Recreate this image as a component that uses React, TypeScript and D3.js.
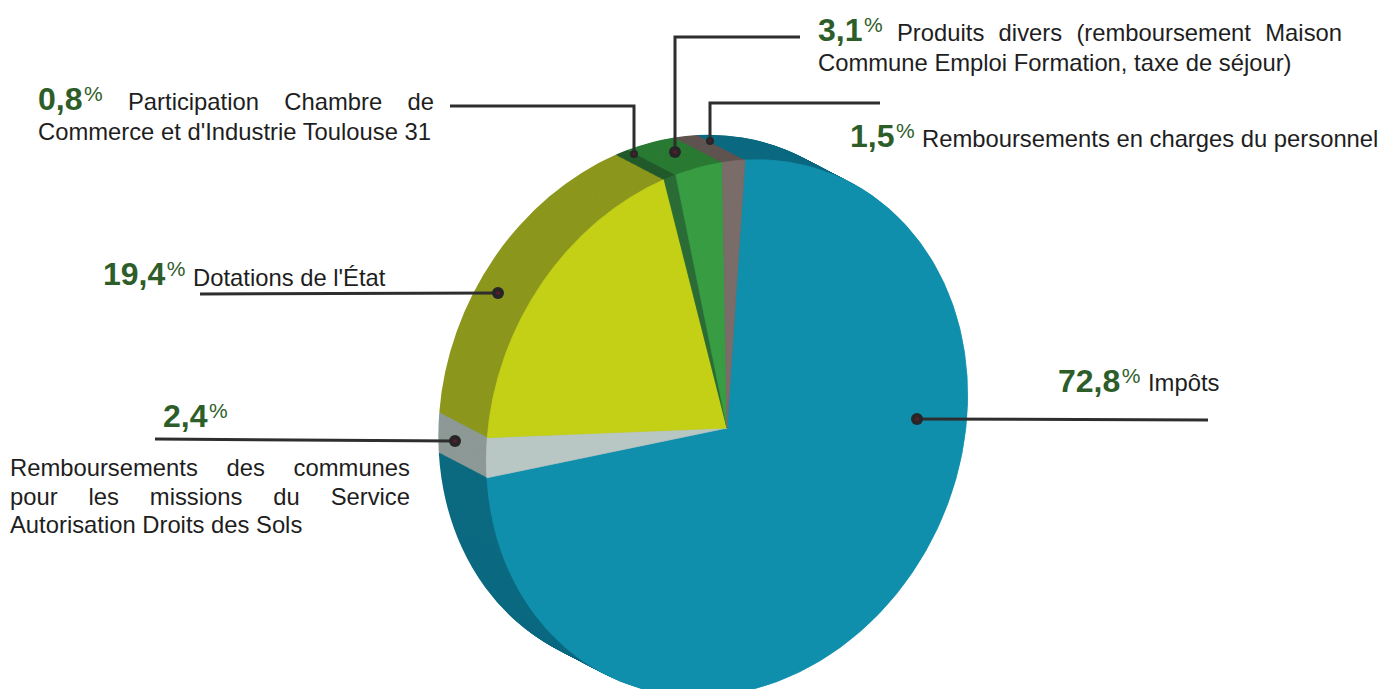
import React, { useMemo } from 'react';
import * as d3 from 'd3';

// ---------- DATA ----------
const categories = [
  'Impôts',
  'Remboursements des communes pour les missions du Service Autorisation Droits des Sols',
  "Dotations de l'État",
  "Participation Chambre de Commerce et d'Industrie Toulouse 31",
  'Produits divers (remboursement Maison Commune Emploi Formation, taxe de séjour)',
  'Remboursements en charges du personnel',
];
const values = [72.8, 2.4, 19.4, 0.8, 3.1, 1.5];
const labelLines = [
  ['Impôts'],
  ['Remboursements des communes', 'pour les missions du Service', 'Autorisation Droits des Sols'],
  ["Dotations de l'État"],
  ['Participation Chambre de', "Commerce et d'Industrie Toulouse 31"],
  ['Produits divers (remboursement Maison', 'Commune Emploi Formation, taxe de séjour)'],
  ['Remboursements en charges du personnel'],
];

// ---------- STYLE / LAYOUT ----------
const frontColors = ['#0f8fac', '#b8c6c4', '#c3d016', '#2b6b36', '#379c42', '#7a6c68'];
const sideColors = ['#0c6a80', '#8d9996', '#8c971d', '#225a2c', '#2a7a33', '#5f5450'];

const W = 1387;
const H = 689;
const CENTER: [number, number] = [727, 428];
const V12: [number, number] = [18, -268]; // direction of 12 o'clock on the tilted face
const V3: [number, number] = [240, -13]; // direction of 3 o'clock
const DEPTH: [number, number] = [-48, -25];
const LAYERS = 56;

const labelLayout = [
  { numX: 1058, numY: 392, lines: [{ x: 1148, y: 391 }], leader: [[1208, 420], [917, 419]], dot: 6 },
  {
    numX: 163, numY: 427,
    lines: [{ x: 10, y: 476, x1: 410 }, { x: 10, y: 505, x1: 410 }, { x: 10, y: 533 }],
    leader: [[155, 439], [455, 441]], dot: 6,
  },
  { numX: 103, numY: 285, lines: [{ x: 193, y: 286 }], leader: [[200, 294], [498, 293]], dot: 6 },
  {
    numX: 38, numY: 110,
    lines: [{ x: 128, y: 110, x1: 434 }, { x: 38, y: 140 }],
    leader: [[450, 106], [634, 106], [634, 154]], dot: 4,
  },
  {
    numX: 818, numY: 41,
    lines: [{ x: 897, y: 41, x1: 1342 }, { x: 818, y: 71 }],
    leader: [[800, 37], [675, 37], [675, 152]], dot: 6,
  },
  { numX: 850, numY: 147, lines: [{ x: 922, y: 147 }], leader: [[880, 103], [710, 103], [710, 141]], dot: 4 },
];

const FONT_FAMILY = "'Liberation Sans', Arial, sans-serif";
const TEXT_SIZE = 23.8;
const NUM_SIZE = 32;
const PCT_SIZE = 21;
const NUM_COLOR = '#2d5e2a';
const TEXT_COLOR = '#1e1e1e';
const LINE_COLOR = '#2e2e2e';

let _ctx: CanvasRenderingContext2D | null = null;
function measure(text: string, font: string): number {
  if (!_ctx) _ctx = document.createElement('canvas').getContext('2d');
  if (!_ctx) return text.length * 10;
  _ctx.font = font;
  return _ctx.measureText(text).width;
}

const fmt = (v: number) => d3.format('.1f')(v).replace('.', ',');

export default function App() {
  const R = 100;
  const arcs = useMemo(() => d3.pie<number>().sort(null).startAngle(0).endAngle(2 * Math.PI)(values), []);
  const arcGen = useMemo(() => d3.arc<d3.PieArcDatum<number>>().innerRadius(0).outerRadius(R), []);

  const matrix = (dx: number, dy: number) =>
    `matrix(${V3[0] / R} ${V3[1] / R} ${-V12[0] / R} ${-V12[1] / R} ${CENTER[0] + dx} ${CENTER[1] + dy})`;

  const layers: number[] = [];
  for (let k = LAYERS; k >= 1; k--) layers.push(k / LAYERS);

  const textFont = `${TEXT_SIZE}px ${FONT_FAMILY}`;
  const numFont = `bold ${NUM_SIZE}px ${FONT_FAMILY}`;

  const lineGen = d3.line();

  return (
    <svg width={W} height={H} style={{ position: 'absolute', left: 0, top: 0, background: '#fff' }}
      fontFamily={FONT_FAMILY}>
      <rect width={W} height={H} fill="#fff" />
      {/* extruded side */}
      {layers.map((t) => (
        <g key={t} transform={matrix(DEPTH[0] * t, DEPTH[1] * t)}>
          {arcs.map((a, i) => (
            <path key={i} d={arcGen(a) || ''} fill={sideColors[i]} />
          ))}
        </g>
      ))}
      {/* front face */}
      <g transform={matrix(0, 0)}>
        {arcs.map((a, i) => (
          <path key={i} d={arcGen(a) || ''} fill={frontColors[i]} stroke={frontColors[i]} strokeWidth={0.3}>
            <title>{categories[i]}</title>
          </path>
        ))}
      </g>
      {/* leaders */}
      {labelLayout.map((L, i) => {
        const pts = L.leader as [number, number][];
        const end = pts[pts.length - 1];
        return (
          <g key={i}>
            <path d={lineGen(pts) || ''} fill="none" stroke={LINE_COLOR} strokeWidth={3} />
            <circle cx={end[0]} cy={end[1]} r={L.dot} fill="#262626" />
            <circle cx={end[0]} cy={end[1]} r={L.dot * 0.35} fill="#5a1c2c" />
          </g>
        );
      })}
      {/* labels */}
      {labelLayout.map((L, i) => {
        const num = fmt(values[i]);
        const nw = measure(num, numFont);
        return (
          <g key={i}>
            <text x={L.numX} y={L.numY} fontSize={NUM_SIZE} fontWeight="bold" fill={NUM_COLOR}>{num}</text>
            <text x={L.numX + nw + 1.5} y={L.numY - 9} fontSize={PCT_SIZE} fill={NUM_COLOR}>%</text>
            {labelLines[i].map((line, j) => {
              const pos = L.lines[j] as { x: number; y: number; x1?: number };
              if (pos.x1 === undefined) {
                return (
                  <text key={j} x={pos.x} y={pos.y} fontSize={TEXT_SIZE} fill={TEXT_COLOR}>{line}</text>
                );
              }
              const words = line.split(' ');
              const widths = words.map((w) => measure(w, textFont));
              const total = widths.reduce((s, w) => s + w, 0);
              const gap = words.length > 1 ? (pos.x1 - pos.x - total) / (words.length - 1) : 0;
              let cx = pos.x;
              return (
                <g key={j}>
                  {words.map((w, k) => {
                    const x = cx;
                    cx += widths[k] + gap;
                    return (
                      <text key={k} x={x} y={pos.y} fontSize={TEXT_SIZE} fill={TEXT_COLOR}>{w}</text>
                    );
                  })}
                </g>
              );
            })}
          </g>
        );
      })}
    </svg>
  );
}
